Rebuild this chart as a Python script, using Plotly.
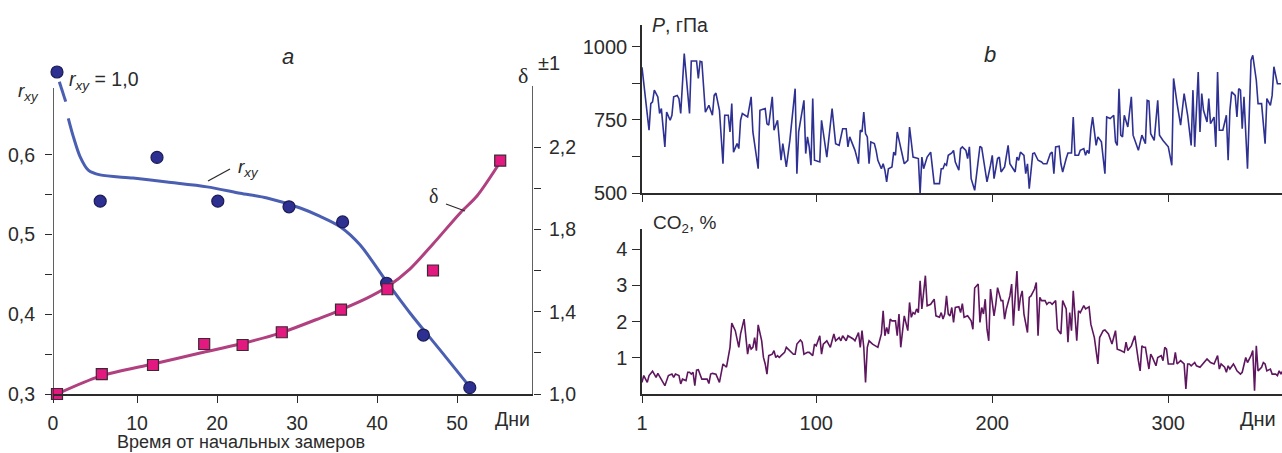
import plotly.graph_objects as go

W, H = 1282, 453
SANS = "Liberation Sans, Arial, sans-serif"
SERIF = "Liberation Serif, Times New Roman, serif"
INK = "#2b2b2b"

# ---------------- panel a: r_xy and delta versus time ----------------
RXY_DAY = [5.4, 12.5, 20.1, 29.0, 35.7, 41.2, 45.8, 51.6]
RXY_VAL = [0.542, 0.597, 0.542, 0.535, 0.516, 0.439, 0.374, 0.308]
RXY_START_DAY = [0.0]
RXY_START_VAL = [1.0]

RXY_FIT_DAY = [0.29, 1.09, None, 1.41, 2.04, 2.88, 3.91, 5.38, 9.5, 13.75, 18.75,
               22.9, 26.25, 30.4, 32.9, 35.4, 37.9, 41.2, 44.1, 47.9, 51.6]
RXY_FIT_VAL = [0.692, 0.667, None, 0.646, 0.623, 0.598, 0.581, 0.575, 0.571, 0.566, 0.560,
               0.552, 0.546, 0.5335, 0.523, 0.510, 0.487, 0.441, 0.402, 0.355, 0.309]

DELTA_DAY = [0.0, 5.6, 12.0, 18.4, 23.2, 28.1, 35.5, 41.3, 47.0, 55.4]
DELTA_VAL = [1.0, 1.097, 1.141, 1.243, 1.238, 1.30, 1.41, 1.509, 1.60, 2.134]

DELTA_FIT_DAY = [0.0, 5.4, 12.0, 17.9, 22.9, 27.9, 32.9, 35.4, 38.75, 41.25, 44.1,
                 47.0, 50.4, 52.5, 55.4]
DELTA_FIT_VAL = [1.0, 1.087, 1.146, 1.199, 1.243, 1.296, 1.369, 1.408, 1.466, 1.520, 1.607,
                 1.729, 1.880, 1.962, 2.127]

A_XTICKS = [-0.5, 10, 20, 30, 40, 50]
A_XTICKTEXT = ["0", "10", "20", "30", "40", "50"]
RXY_TICKS = [0.3, 0.35, 0.4, 0.45, 0.5, 0.55, 0.6]
RXY_TICKTEXT = ["0,3", "", "0,4", "", "0,5", "", "0,6"]
DELTA_TICKS = [1.0, 1.2, 1.4, 1.6, 1.8, 2.0, 2.2]
DELTA_TICKTEXT = ["1,0", "", "1,4", "", "1,8", "", "2,2"]

# ---------------- panel b: daily pressure and CO2 ----------------
P_DAY = [
    1, 5, 6, 7, 8, 10, 11, 12, 14, 15,
    17, 18, 19, 21, 22, 23, 25, 28, 29, 32,
    33, 34, 35, 37, 39, 41, 42, 43, 45, 47,
    48, 50, 51, 52, 53, 55, 56, 57, 58, 61,
    63, 64, 67, 68, 71, 72, 73, 75, 76, 78,
    80, 81, 83, 85, 88, 89, 90, 93, 94, 95,
    96, 97, 98, 99, 102, 103, 106, 109, 111, 113,
    115, 117, 118, 119, 122, 124, 125, 126, 127, 128,
    129, 130, 131, 133, 134, 135, 137, 138, 139, 140,
    141, 143, 144, 145, 146, 148, 150, 152, 153, 155,
    158, 159, 160, 161, 163,
    165, 167, 170, 171, 172, 173, 174, 175, 177, 178,
    179, 181, 182, 183, 185, 186, 187, 188, 190, 193,
    194, 196, 197, 199, 200, 201, 203, 204, 205, 207,
    209, 210, 213, 214, 215, 216, 218, 219, 220, 221,
    223, 224, 226, 228, 229, 231, 233, 234, 235, 236,
    238, 239, 240, 242, 243, 245, 246, 247, 249, 250,
    252, 253, 254, 255, 256, 257, 259, 260, 262, 264,
    265, 267, 269, 270, 271, 272, 273, 274, 275, 277,
    279, 280, 283, 285, 287, 288, 289, 290, 292, 294,
    295, 297, 300, 302, 303, 305, 307, 309, 311, 313,
    314, 315, 317, 318, 319, 320, 322, 323, 324, 326,
    327, 328, 329, 331, 333, 334, 335, 336, 338, 339,
    340, 341, 342, 343, 345, 347, 348, 350, 351, 353,
    355, 356, 358, 359, 360, 362, 364,
]
P_HPA = [
    930, 715, 806, 812, 852, 829, 772, 789, 658, 777,
    749, 766, 829, 834, 823, 772, 977, 772, 952, 952,
    892, 951, 949, 777, 800, 766, 834, 842, 783, 600,
    766, 766, 709, 806, 640, 669, 652, 749, 772, 760,
    829, 709, 583, 783, 789, 737, 732, 829, 715, 749,
    612, 669, 589, 680, 857, 566, 709, 817, 635, 692,
    658, 595, 823, 612, 606, 749, 623, 789, 669, 663,
    720, 720, 658, 692, 646, 600, 715, 709, 777, 703,
    692, 600, 675, 669, 646, 612, 583, 600, 578, 538,
    583, 589, 640, 629, 709, 658, 600, 612, 726, 623,
    618, 498, 623, 583, 623,
    640, 532, 532, 583, 583, 600, 595, 629, 637, 646,
    606, 578, 652, 658, 646, 618, 658, 549, 509, 660,
    655, 578, 538, 595, 629, 549, 618, 623, 572, 589,
    663, 600, 572, 623, 612, 640, 629, 566, 600, 515,
    635, 637, 612, 606, 600, 600, 635, 640, 566, 658,
    660, 600, 572, 618, 637, 637, 760, 629, 629, 646,
    652, 629, 646, 635, 715, 760, 663, 692, 675, 566,
    760, 755, 766, 675, 663, 857, 698, 692, 766, 726,
    829, 698, 646, 698, 669, 817, 815, 703, 680, 817,
    698, 680, 658, 595, 892, 806, 732, 840, 766, 663,
    852, 658, 914, 709, 840, 783, 743, 823, 737, 760,
    658, 914, 715, 715, 766, 612, 783, 846, 834, 760,
    857, 852, 720, 829, 583, 954, 971, 886, 806, 806,
    669, 823, 800, 834, 932, 874, 874,
]

CO2_DAY = [
    1, 2, 4, 5, 7, 9, 10, 12, 14, 16,
    18, 19, 20, 22, 23, 24, 26, 27, 28, 29,
    30, 31, 32, 33, 35, 36, 38, 39, 40, 41,
    43, 45, 46, 47, 49, 51, 52, 54, 56, 57,
    59, 60, 61, 62, 63, 64, 65, 66, 67, 69,
    70, 71, 72, 73, 75, 76, 77, 78, 79, 80,
    82, 83, 85, 87, 88, 89, 91, 92, 93, 95,
    96, 98, 99, 100, 102, 103, 104, 106, 107, 108,
    110, 111, 113, 114, 115, 117, 118, 120, 121, 122,
    124, 125, 126, 127, 128, 129, 130, 132, 134, 135,
    137, 138, 139, 140, 141, 142, 143, 145, 146, 147,
    148, 149, 150, 152, 153, 154, 155, 156, 157, 158,
    159, 160, 162, 163,
    165, 167, 168, 170, 171, 172, 173, 174, 175, 176,
    177, 178, 179, 181, 182, 183, 184, 186, 188, 189,
    190, 192, 193, 194, 195, 196, 197, 198, 199, 201,
    202, 203, 205, 206, 207, 208, 210, 211, 212, 213,
    214, 215, 216, 217, 218, 220, 221, 222, 224, 225,
    226, 227, 228, 230, 231, 232, 233, 234, 236, 237,
    239, 240, 242, 243, 244, 245, 246, 248, 249, 250,
    251, 252, 253, 255, 256, 258, 260, 261, 263, 264,
    266, 267, 268, 270, 271, 273, 275, 276, 277, 279,
    281, 283, 284, 285, 286, 287, 289, 290, 291, 293,
    294, 296, 297, 298, 299, 300, 302, 303, 304, 305,
    307, 309, 310, 311, 312, 313, 315, 316, 318, 320,
    321, 322, 324, 326, 328, 329, 330, 332, 333, 334,
    335, 337, 338, 339, 341, 342, 344, 345, 347, 348,
    349, 350, 351, 353, 354, 355, 356, 358, 359, 361,
    362, 363, 364, 365,
]
CO2_PCT = [
    0.32, 0.51, 0.32, 0.51, 0.63, 0.46, 0.57, 0.41, 0.23, 0.51,
    0.55, 0.46, 0.55, 0.51, 0.28, 0.41, 0.37, 0.60, 0.60, 0.55,
    0.60, 0.23, 0.66, 0.67, 0.41, 0.41, 0.41, 0.29, 0.55, 0.57,
    0.55, 0.32, 0.64, 0.83, 0.74, 1.29, 1.96, 1.75, 1.29, 1.66,
    2.07, 1.56, 1.10, 1.38, 1.24, 1.29, 1.56, 1.20, 1.91, 1.47,
    1.01, 0.83, 0.55, 1.06, 1.10, 1.20, 1.01, 1.06, 1.01, 1.06,
    1.15, 1.29, 1.20, 1.10, 1.10, 1.38, 1.49, 1.43, 1.10, 1.15,
    1.15, 1.06, 1.38, 1.33, 1.61, 1.10, 1.38, 1.47, 1.38, 1.29,
    1.66, 1.47, 1.56, 1.47, 1.61, 1.47, 1.61, 1.56, 1.52, 1.47,
    1.70, 1.29, 1.75, 1.29, 0.32, 1.29, 1.47, 1.38, 1.33, 1.29,
    1.66, 2.30, 1.61, 1.84, 1.66, 2.07, 2.02, 2.02, 1.61, 2.21,
    1.29, 1.84, 2.16, 1.75, 2.53, 2.12, 2.25, 2.21, 2.35, 2.25,
    3.13, 2.35, 3.27, 2.44,
    2.48, 2.62, 2.16, 2.12, 2.25, 2.07, 2.21, 2.71, 2.21, 2.16,
    2.39, 1.98, 2.39, 2.41, 2.25, 2.50, 2.12, 2.16, 2.02, 1.79,
    2.93, 3.04, 1.98, 2.39, 2.21, 2.62, 1.79, 1.47, 2.90, 2.16,
    2.48, 2.94, 2.58, 2.58, 2.07, 2.35, 2.71, 3.04, 1.89, 2.67,
    3.40, 2.30, 2.67, 2.85, 2.21, 1.70, 2.67, 2.71, 2.90, 3.08,
    1.61, 2.67, 2.58, 2.58, 2.48, 2.53, 2.53, 2.48, 2.58, 1.79,
    1.66, 2.58, 2.35, 1.43, 2.25, 1.75, 2.85, 1.47, 2.30, 2.25,
    2.35, 2.44, 2.35, 2.41, 1.93, 1.56, 0.83, 1.56, 1.75, 1.77,
    1.66, 1.52, 1.38, 1.75, 1.24, 1.20, 1.15, 1.43, 1.20, 1.33,
    1.61, 0.92, 0.64, 1.33, 1.29, 1.29, 0.69, 1.10, 1.01, 0.78,
    1.01, 1.06, 0.92, 1.29, 1.24, 0.83, 0.83, 0.83, 1.15, 0.83,
    0.92, 0.83, 0.14, 0.83, 0.83, 0.78, 0.87, 0.78, 0.74, 0.87,
    0.92, 0.97, 0.87, 0.83, 1.06, 0.69, 0.83, 0.74, 0.60, 0.78,
    0.69, 0.83, 0.74, 0.64, 0.55, 0.60, 1.01, 0.87, 1.06, 1.20,
    0.09, 1.33, 0.64, 0.74, 0.87, 0.83, 0.64, 0.69, 0.55, 0.55,
    0.51, 0.64, 0.55, 0.64,
]

B_XTICKS = [1, 100, 200, 300]
P_TICKS = [500, 625, 750, 875, 1000]
P_TICKTEXT = ["500", "", "750", "", "1000"]
CO2_TICKS = [1, 2, 3, 4]

# ---------------- layout geometry (pixels) ----------------
A_LEFT, A_RIGHT = 53, 533          # panel a plot edges
A_TOP, A_BOTTOM = 50, 394
A_XRANGE = [-0.5, 59.5]
B_LEFT = 642
B_XRANGE = [1, 364.6]
P_TOP, P_BOTTOM = 25, 193
C_TOP, C_BOTTOM = 229, 394

RXY_PX_PER_UNIT = 796.7
DELTA_PX_PER_UNIT = 205.8
RXY_RANGE = [0.3, 0.3 + (A_BOTTOM - A_TOP) / RXY_PX_PER_UNIT]
DELTA_RANGE = [1.0, 1.0 + (A_BOTTOM - A_TOP) / DELTA_PX_PER_UNIT]
# the r_xy = 1 point sits above an axis break, on its own hidden scale
BREAK_Y_PX = 72
BREAK_RANGE = [0.3, 0.3 + 0.7 * (A_BOTTOM - A_TOP) / (A_BOTTOM - BREAK_Y_PX)]


def fx(x):
    return x / W


def fy(y):
    return 1 - y / H


BLUE_FIT = "#4a5fb2"
NAVY = "#2d3091"
PLUM = "#b0407f"
MAGENTA = "#e3197f"
P_COLOR = "#2e3192"
CO2_COLOR = "#5e165e"

fig = go.Figure()

fig.add_trace(go.Scatter(x=RXY_FIT_DAY, y=RXY_FIT_VAL, mode="lines", connectgaps=False,
                         line=dict(color=BLUE_FIT, width=3, shape="spline", smoothing=0.8),
                         xaxis="x", yaxis="y", hoverinfo="skip"))
fig.add_trace(go.Scatter(x=DELTA_FIT_DAY, y=DELTA_FIT_VAL, mode="lines",
                         line=dict(color=PLUM, width=3, shape="spline", smoothing=0.8),
                         xaxis="x", yaxis="y2", hoverinfo="skip"))
fig.add_trace(go.Scatter(x=DELTA_DAY, y=DELTA_VAL, mode="markers", cliponaxis=False,
                         marker=dict(symbol="square", size=11, color=MAGENTA,
                                     line=dict(color="#3a2a35", width=1.2)),
                         xaxis="x", yaxis="y2"))
fig.add_trace(go.Scatter(x=RXY_DAY, y=RXY_VAL, mode="markers", cliponaxis=False,
                         marker=dict(symbol="circle", size=12, color=NAVY,
                                     line=dict(color="#1b1c55", width=1.2)),
                         xaxis="x", yaxis="y"))
fig.add_trace(go.Scatter(x=RXY_START_DAY, y=RXY_START_VAL, mode="markers", cliponaxis=False,
                         marker=dict(symbol="circle", size=12, color=NAVY,
                                     line=dict(color="#1b1c55", width=1.2)),
                         xaxis="x", yaxis="y3"))

fig.add_trace(go.Scatter(x=P_DAY, y=P_HPA, mode="lines",
                         line=dict(color=P_COLOR, width=1.6),
                         xaxis="x2", yaxis="y4"))
fig.add_trace(go.Scatter(x=CO2_DAY, y=CO2_PCT, mode="lines",
                         line=dict(color=CO2_COLOR, width=1.6),
                         xaxis="x3", yaxis="y5"))


def axis_style(size, ticklen=7):
    return dict(showgrid=False, zeroline=False, ticks="outside", ticklen=ticklen,
                tickwidth=1.4, tickcolor=INK, linecolor=INK, linewidth=1.5,
                tickfont=dict(family=SANS, size=size, color=INK), automargin=False)


fig.update_layout(
    template="none",
    width=W, height=H,
    margin=dict(l=0, r=0, t=0, b=0, pad=0),
    paper_bgcolor="white", plot_bgcolor="white",
    showlegend=False,
    xaxis=dict(domain=[fx(A_LEFT), fx(A_RIGHT)], range=A_XRANGE, anchor="y",
               showline=True, tickmode="array", tickvals=A_XTICKS, ticktext=A_XTICKTEXT,
               ticklabelstandoff=4, **axis_style(19.5)),
    yaxis=dict(domain=[fy(A_BOTTOM), fy(A_TOP)], range=RXY_RANGE, anchor="x",
               showline=False, tickmode="array", tickvals=RXY_TICKS,
               ticktext=RXY_TICKTEXT, ticklabelstandoff=6, **axis_style(19.5)),
    yaxis2=dict(domain=[fy(A_BOTTOM), fy(A_TOP)], range=DELTA_RANGE, anchor="x",
                overlaying="y", side="right", showline=False, tickmode="array",
                tickvals=DELTA_TICKS, ticktext=DELTA_TICKTEXT, ticklabelstandoff=4,
                **axis_style(19.5)),
    yaxis3=dict(domain=[fy(A_BOTTOM), fy(A_TOP)], range=BREAK_RANGE, anchor="x",
                overlaying="y", visible=False),
    xaxis2=dict(domain=[fx(B_LEFT), 1.0], range=B_XRANGE, anchor="y4",
                showline=True, tickmode="array", tickvals=B_XTICKS,
                showticklabels=False, **axis_style(20)),
    yaxis4=dict(domain=[fy(P_BOTTOM), fy(P_TOP)], range=[500, 1075], anchor="x2",
                showline=True, tickmode="array", tickvals=P_TICKS, ticktext=P_TICKTEXT,
                ticklabelstandoff=1, **axis_style(20, ticklen=8)),
    xaxis3=dict(domain=[fx(B_LEFT), 1.0], range=B_XRANGE, anchor="y5",
                showline=True, tickmode="array", tickvals=B_XTICKS,
                ticklabelstandoff=3, **axis_style(20)),
    yaxis5=dict(domain=[fy(C_BOTTOM), fy(C_TOP)], range=[0, 4.56], anchor="x3",
                showline=True, tickmode="array", tickvals=CO2_TICKS,
                ticklabelstandoff=1, **axis_style(20, ticklen=8)),
)

# vertical axis lines of panel a stop short of the top break region
fig.add_shape(type="line", xref="x", yref="y", x0=A_XRANGE[0], x1=A_XRANGE[0], y0=0.3,
              y1=0.3 + (A_BOTTOM - 88) / RXY_PX_PER_UNIT, line=dict(color=INK, width=1.5))
fig.add_shape(type="line", xref="x", yref="y2", x0=A_XRANGE[1], x1=A_XRANGE[1], y0=1.0,
              y1=1.0 + (A_BOTTOM - 86) / DELTA_PX_PER_UNIT, line=dict(color=INK, width=1.5))

# leader lines for the curve labels
for (x0, y0, x1, y1) in [(208, 181, 230, 169), (446, 204, 465, 211)]:
    fig.add_shape(type="line", xref="paper", yref="paper",
                  x0=fx(x0), y0=fy(y0), x1=fx(x1), y1=fy(y1),
                  line=dict(color=INK, width=1.3))


def label(text, x, y, size=19, xanchor="center", family=SANS):
    fig.add_annotation(text=text, x=fx(x), y=fy(y), xref="paper", yref="paper",
                       xanchor=xanchor, yanchor="middle", showarrow=False,
                       font=dict(family=family, size=size, color=INK))


label("<i>a</i>", 288, 57, size=22)
label("<i>b</i>", 990, 55, size=22)
label("<i>r<sub>xy</sub></i>", 16, 92, size=19, xanchor="left")
label("<i>r<sub>xy</sub></i> = 1,0", 67, 80, size=19.5, xanchor="left")
label("<i>r<sub>xy</sub></i>", 236, 168, size=19, xanchor="left")
label("δ", 433, 196, size=20, family=SERIF)
label("δ", 523, 76, size=22, family=SERIF)
label("±1", 549, 63, size=20)
label("<i>P</i>, гПа", 650, 25, size=19.5, xanchor="left")
label("CO<sub>2</sub>, %", 651, 224, size=19, xanchor="left")
label("Время от начальных замеров", 241, 442, size=18)
label("Дни", 512, 419, size=19.5)
label("Дни", 1258, 419, size=20)

fig.write_html("out.html")
